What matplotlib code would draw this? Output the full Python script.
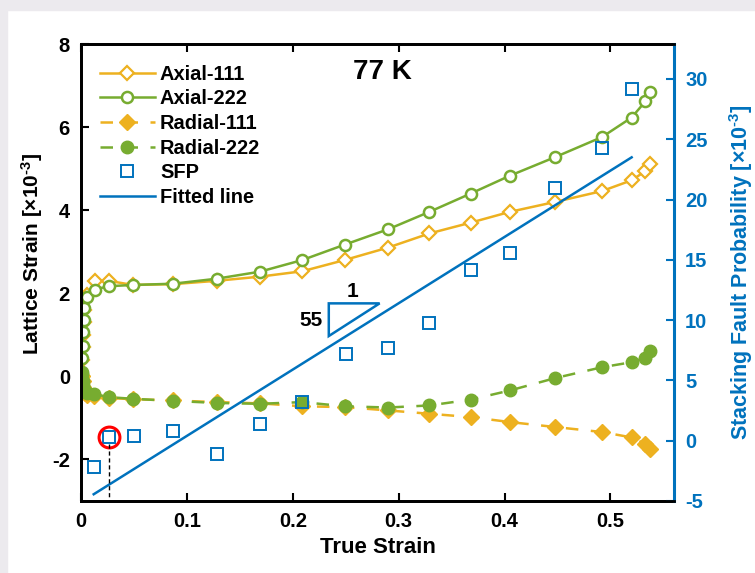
import matplotlib
matplotlib.use("Agg")
import matplotlib.pyplot as plt
import numpy as np
from matplotlib.patches import Polygon, Rectangle

plt.rcParams['font.family'] = ['Liberation Sans', 'DejaVu Sans']
plt.rcParams['font.weight'] = 'bold'
plt.rcParams['axes.unicode_minus'] = False
plt.rcParams['mathtext.fontset'] = 'custom'
plt.rcParams['mathtext.rm'] = 'Liberation Sans:bold'
plt.rcParams['mathtext.bf'] = 'Liberation Sans:bold'
plt.rcParams['mathtext.default'] = 'bf'

# ---------------- data ----------------
strain_axial = [0.001, 0.0012, 0.0015, 0.002, 0.0025, 0.003, 0.006, 0.013, 0.026, 0.049,
                0.087, 0.128, 0.169, 0.209, 0.249, 0.29, 0.329, 0.368, 0.405, 0.448,
                0.492, 0.52, 0.533, 0.537]
axial_111 = [0.0, 0.4, 0.7, 1.0, 1.3, 1.6, 1.95, 2.3, 2.3, 2.2,
             2.22, 2.3, 2.40, 2.53, 2.80, 3.1, 3.44, 3.70, 3.96, 4.20,
             4.46, 4.72, 4.94, 5.12]
axial_222 = [0.1, 0.43, 0.74, 1.06, 1.36, 1.65, 1.90, 2.09, 2.17, 2.2,
             2.23, 2.35, 2.52, 2.80, 3.17, 3.54, 3.96, 4.40, 4.83, 5.28,
             5.76, 6.23, 6.62, 6.84]

strain_radial = [0.001, 0.0015, 0.002, 0.003, 0.004, 0.006, 0.012, 0.026, 0.049, 0.087,
                 0.128, 0.169, 0.209, 0.249, 0.29, 0.329, 0.368, 0.405, 0.448, 0.492,
                 0.52, 0.533, 0.537]
radial_111 = [0.0, -0.12, -0.25, -0.33, -0.4, -0.45, -0.47, -0.52, -0.55, -0.58,
              -0.62, -0.65, -0.72, -0.74, -0.82, -0.90, -0.98, -1.10, -1.22, -1.34,
              -1.47, -1.63, -1.76]
radial_222 = [0.05, -0.1, -0.2, -0.3, -0.36, -0.4, -0.42, -0.50, -0.54, -0.59,
              -0.64, -0.66, -0.62, -0.72, -0.75, -0.70, -0.56, -0.34, -0.04, 0.22,
              0.34, 0.45, 0.60]

strain_sfp = [0.012, 0.026, 0.05, 0.087, 0.128, 0.169, 0.209, 0.25, 0.29, 0.329,
              0.368, 0.405, 0.448, 0.492, 0.52]
sfp = [-2.18, 0.33, 0.39, 0.80, -1.08, 1.36, 3.2, 7.2, 7.71, 9.78,
       14.15, 15.6, 20.98, 24.3, 29.2]

fit_slope = 55.0
fit_intercept = -5.1
fit_range = [0.012, 0.52]

highlight_strain = 0.026
highlight_sfp = 0.33

xticks = [0, 0.1, 0.2, 0.3, 0.4, 0.5]
xticklabels = ['0', '0.1', '0.2', '0.3', '0.4', '0.5']
yticks_left = [-2, 0, 2, 4, 6, 8]
yticks_right = [-5, 0, 5, 10, 15, 20, 25, 30]

# ---------------- style ----------------
ORANGE = '#EDB120'
GREEN = '#77AC30'
BLUE = '#0072BD'

W, H = 755, 573
fig = plt.figure(figsize=(W / 100, H / 100), dpi=100)
fig.patches.append(Rectangle((0, 1 - 10 / H), 1, 10 / H, transform=fig.transFigure,
                             color='#ECEAEE', zorder=0))
fig.patches.append(Rectangle((0, 0), 7 / W, 1, transform=fig.transFigure,
                             color='#ECEAEE', zorder=0))

ax = fig.add_axes([81 / W, (H - 501) / H, (674 - 81) / W, (501 - 44) / H])
ax.patch.set_alpha(0)
ax2 = ax.twinx()

h1, = ax.plot(strain_axial, axial_111, '-', color=ORANGE, lw=1.8, marker='D', ms=7,
              mfc='white', mec=ORANGE, mew=1.6, label='Axial-111')
h2, = ax.plot(strain_axial, axial_222, '-', color=GREEN, lw=1.8, marker='o', ms=8,
              mfc='white', mec=GREEN, mew=1.8, label='Axial-222')
h3, = ax.plot(strain_radial, radial_111, '--', color=ORANGE, lw=1.8, marker='D', ms=8,
              mfc=ORANGE, mec=ORANGE, label='Radial-111', dashes=(5, 5))
h4, = ax.plot(strain_radial, radial_222, '--', color=GREEN, lw=1.8, marker='o', ms=9,
              mfc=GREEN, mec=GREEN, label='Radial-222', dashes=(5, 5))

h5, = ax2.plot(strain_sfp, sfp, 's', ls='none', ms=9, mfc='none', mec=BLUE, mew=1.4,
               label='SFP')
fx = np.array(fit_range)
h6, = ax2.plot(fx, fit_slope * fx + fit_intercept, '-', color=BLUE, lw=1.8,
               label='Fitted line')

# highlight marker and dashed drop line
ax2.plot([highlight_strain], [highlight_sfp], 'o', ms=15, mfc='none', mec='red', mew=2.2)
ax2.plot([highlight_strain, highlight_strain], [highlight_sfp - 0.6, -5], '--',
         color='black', lw=1.0, dashes=(3, 2))

# slope triangle
tri = Polygon([(0.234, 8.68), (0.234, 11.39), (0.282, 11.39)], closed=True,
              fill=False, edgecolor=BLUE, lw=1.8)
ax2.add_patch(tri)
ax2.text(0.256, 11.6, '1', ha='center', va='bottom', fontsize=15, fontweight='bold')
ax2.text(0.228, 10.0, '55', ha='right', va='center', fontsize=15, fontweight='bold')

ax.text(0.285, 7.33, '77 K', ha='center', va='center', fontsize=20, fontweight='bold')

# axes limits and ticks
ax.set_xlim(0, 0.56)
ax.set_ylim(-3, 8)
ax2.set_ylim(-5, 32.9)
ax.set_xticks(xticks)
ax.set_xticklabels(xticklabels)
ax.set_yticks(yticks_left)
ax2.set_yticks(yticks_right)

ax.tick_params(axis='both', direction='in', length=6, width=1.5, labelsize=14.5,
               top=True, pad=8)
ax.tick_params(axis='y', right=False)
ax2.tick_params(axis='y', direction='in', length=6, width=1.5, labelsize=14.5,
                colors=BLUE, pad=8)

for s in ['left', 'bottom', 'top']:
    ax.spines[s].set_linewidth(2)
    ax2.spines[s].set_linewidth(2)
ax2.spines['right'].set_color(BLUE)
ax2.spines['right'].set_linewidth(2.2)
ax.spines['right'].set_visible(False)
for lbl in ax.get_xticklabels() + ax.get_yticklabels() + ax2.get_yticklabels():
    lbl.set_fontweight('bold')

ax.set_xlabel('True Strain', fontsize=16, fontweight='bold', labelpad=4)
ax.set_ylabel(r'Lattice Strain [×10$^{\text{-3}}$]', fontsize=15, fontweight='bold')
ax.yaxis.set_label_coords(-0.06, 0.54)
ax2.set_ylabel(r'Stacking Fault Probability [×10$^{\text{-3}}$]', fontsize=15.5,
               fontweight='bold', color=BLUE, labelpad=14)

leg = ax2.legend(handles=[h1, h2, h3, h4, h5, h6], loc='upper left',
                 bbox_to_anchor=(0.0185, 0.972), borderaxespad=0, frameon=False,
                 handlelength=2.75, labelspacing=0.28, handletextpad=0.25,
                 prop={'weight': 'bold', 'size': 14.4})

fig.savefig('out.png', dpi=100)
